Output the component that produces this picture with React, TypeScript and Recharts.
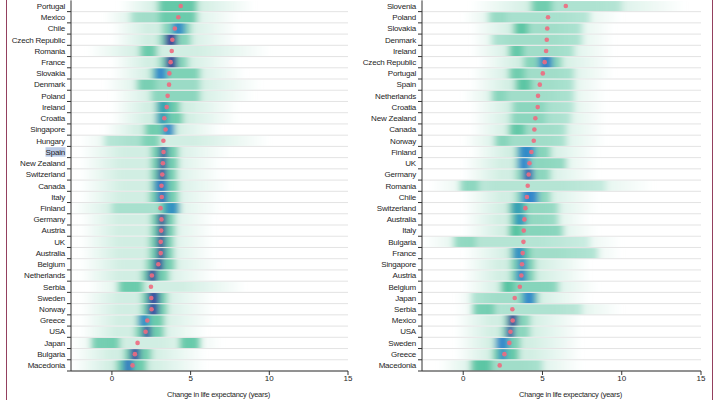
import React from "react";
import { ComposedChart, Bar, Line, XAxis, YAxis, CartesianGrid } from "recharts";

type Span = [number, number];
type Block = [number, number, number];
type Core = [number, number, number] | null;

const xDomain: Span = [-2.6, 15];
const xTicks = [0, 5, 10, 15];
const axisTitle = "Change in life expectancy (years)";
const selectedLabel = "Spain";

// left panel
const womenCountries = [
  "Portugal", "Mexico", "Chile", "Czech Republic", "Romania", "France",
  "Slovakia", "Denmark", "Poland", "Ireland", "Croatia", "Singapore", "Hungary", "Spain",
  "New Zealand", "Switzerland", "Canada", "Italy", "Finland", "Germany", "Austria", "UK",
  "Australia", "Belgium", "Netherlands", "Serbia", "Sweden", "Norway", "Greece", "USA",
  "Japan", "Bulgaria", "Macedonia",
];
const womenMedian = [
  4.37, 4.22, 4.0, 3.84, 3.8, 3.73, 3.65, 3.63, 3.54, 3.48, 3.33, 3.41, 3.27, 3.28,
  3.24, 3.2, 3.15, 3.17, 3.09, 3.15, 3.13, 3.1, 3.1, 2.95, 2.54, 2.48, 2.5, 2.52, 2.25, 2.14,
  1.63, 1.46, 1.31,
];
const womenExtent: Span[] = [
  [0.5, 9], [-0.5, 8], [0, 8], [0, 8], [-1.5, 10], [0, 8],
  [0, 8.5], [-0.5, 9.5], [0, 9], [0, 8], [0, 8], [-0.5, 7], [-2, 10], [-2, 7.5],
  [-2, 7], [-2, 7], [-2, 7.5], [-2, 7], [-2.5, 7], [-2, 6.5], [-2, 6.5], [-2, 6.5],
  [-2, 6.5], [-2, 7], [-2, 6.5], [-1.5, 8.5], [-2, 6.5], [-2, 6.5], [-2, 6.5], [-2, 6],
  [-2.5, 7], [-2.5, 6], [-2.5, 6],
];
const womenBlocks: Block[][] = [
  [[2.95, 5.4, 0.8]], [[1.2, 3.0, 0.35], [3.0, 5.4, 0.75]],
  [[3.2, 5.0, 0.55]], [[3.0, 5.0, 0.55]], [[1.8, 2.85, 0.75]], [[3.0, 4.8, 0.55]],
  [[2.5, 5.6, 0.6]], [[1.6, 2.8, 0.65], [2.8, 5.6, 0.4]], [[2.5, 5.6, 0.5]], [[2.8, 4.3, 0.75]],
  [[2.8, 4.5, 0.7]], [[2.1, 4.0, 0.7]], [[1.9, 3.05, 0.6], [-0.5, 1.9, 0.3]], [[2.5, 4.2, 0.7]],
  [[2.5, 4.2, 0.7]], [[2.5, 4.1, 0.7]], [[2.5, 4.2, 0.7]], [[2.4, 4.2, 0.7]],
  [[3.1, 4.3, 0.9], [0, 3.1, 0.3]], [[2.5, 4.0, 0.7]], [[2.5, 4.0, 0.7]], [[2.4, 3.9, 0.7]],
  [[2.4, 3.9, 0.7]], [[2.2, 4.0, 0.7]], [[1.9, 3.6, 0.7]], [[0.4, 2.0, 0.75]],
  [[1.9, 3.5, 0.7]], [[1.9, 3.5, 0.7]], [[1.6, 3.3, 0.75]], [[1.5, 3.3, 0.7]],
  [[-1.3, 0.5, 0.7], [4.3, 5.6, 0.8]], [[0.8, 2.5, 0.7]], [[0.3, 2.2, 0.75]],
];
const womenCore: Core[] = [
  null, null, [3.85, 4.6, 0.9], [3.4, 4.1, 2], null, [3.45, 4.1, 2],
  [2.75, 3.45, 1], null, null, [2.9, 3.6, 0.4], [2.85, 3.55, 0.5], [3.3, 3.9, 1], null, [3.05, 3.5, 1.8],
  [3.0, 3.45, 1.8], [2.95, 3.45, 1.8], [2.75, 3.5, 1.2], [2.9, 3.5, 1.3], [3.4, 4.2, 0.8], [2.95, 3.4, 2],
  [2.95, 3.4, 2], [2.9, 3.35, 2], [2.9, 3.35, 2], [2.7, 3.25, 1.9], [2.3, 2.85, 1.9], null,
  [2.3, 3.0, 1.8], [2.3, 2.95, 1.8], [1.75, 2.35, 0.9], [2.0, 2.45, 1.8], null, [1.2, 1.75, 1.8],
  [0.75, 1.35, 1.2],
];

// right panel
const menCountries = [
  "Slovenia", "Poland", "Slovakia", "Denmark", "Ireland", "Czech Republic",
  "Portugal", "Spain", "Netherlands", "Croatia", "New Zealand", "Canada", "Norway", "Finland",
  "UK", "Germany", "Romania", "Chile", "Switzerland", "Australia", "Italy", "Bulgaria",
  "France", "Singapore", "Austria", "Belgium", "Japan", "Serbia", "Mexico", "USA",
  "Sweden", "Greece", "Macedonia",
];
const menMedian = [
  6.47, 5.35, 5.3, 5.27, 5.23, 5.14, 5.02, 4.83, 4.72, 4.7, 4.55, 4.49, 4.45, 4.3,
  4.18, 4.13, 4.07, 4.02, 3.92, 3.86, 3.82, 3.8, 3.75, 3.71, 3.67, 3.57, 3.25, 3.1, 3.12, 2.98,
  2.91, 2.6, 2.3,
];
const menExtent: Span[] = [
  [0.5, 14], [0, 10], [0.5, 9.5], [0.5, 9.5], [0.5, 9.5], [1, 9.5],
  [0.5, 9.5], [0.5, 9], [0, 9], [0.5, 9], [0.5, 9], [0.5, 9], [0, 9], [0.5, 8.5],
  [0, 8.5], [0, 8.5], [-2, 12], [0, 8.5], [0, 8.5], [0, 8], [0, 8.5], [-2.5, 10],
  [0, 10], [0, 8], [0, 8], [0, 8.5], [-0.5, 8], [-0.5, 10], [-0.5, 7.5], [-0.5, 7.5],
  [-0.5, 7.5], [-0.5, 7.5], [-1.5, 7.5],
];
const menBlocks: Block[][] = [
  [[4.3, 5.6, 0.7], [5.6, 10, 0.25]], [[1.6, 2.7, 0.45], [2.7, 8.0, 0.3]],
  [[3.2, 4.1, 0.85], [4.1, 7.5, 0.35]], [[1.8, 3.0, 0.35], [3.0, 7.5, 0.35]], [[2.9, 3.8, 0.8], [3.8, 7.0, 0.35]], [[3.8, 6.2, 0.55]],
  [[2.9, 3.9, 0.7], [3.9, 7.0, 0.35]], [[3.3, 4.3, 0.85], [4.3, 7.0, 0.35]], [[1.8, 2.7, 0.55], [2.7, 7.0, 0.35]], [[3.1, 5.2, 0.5], [5.2, 7.0, 0.3]],
  [[3.0, 5.2, 0.5], [5.2, 6.8, 0.3]], [[2.9, 3.9, 0.8], [3.9, 6.5, 0.35]], [[2.0, 2.9, 0.55], [2.9, 6.5, 0.35]], [[3.3, 5.5, 0.55]],
  [[3.3, 6.5, 0.5]], [[3.3, 5.5, 0.5]], [[-0.2, 1.0, 0.55], [1.0, 9.0, 0.2]], [[3.3, 5.5, 0.5]],
  [[2.9, 4.0, 0.85], [4.0, 6.0, 0.45]], [[3.0, 4.0, 0.85], [4.0, 6.0, 0.45]], [[2.9, 3.7, 0.9], [3.7, 6.3, 0.55]], [[-0.6, 0.8, 0.5], [0.8, 8.0, 0.2]],
  [[3.0, 4.2, 0.85], [4.2, 8.5, 0.35]], [[3.0, 4.5, 0.65]], [[3.0, 4.5, 0.65]], [[2.4, 3.2, 0.9], [3.2, 6.0, 0.55]],
  [[0.5, 3.6, 0.35], [3.6, 4.7, 0.75]], [[0.6, 2.0, 0.7], [2.0, 7.5, 0.25]], [[2.6, 4.2, 0.55]], [[2.4, 4.2, 0.5]],
  [[2.0, 3.6, 0.65]], [[1.9, 3.5, 0.8]], [[0.5, 1.8, 0.85], [1.8, 5.0, 0.35]],
];
const menCore: Core[] = [
  null, null, null, null, null, [4.8, 5.6, 1.1],
  null, null, null, null, null, null, null, [3.5, 4.5, 0.9],
  [3.5, 4.2, 1], [3.8, 4.4, 1.5], null, [3.7, 4.7, 1], [3.1, 3.8, 0.5], [3.3, 3.9, 0.7], null, null,
  [3.2, 3.8, 0.9], [3.5, 3.95, 1.1], [3.4, 3.95, 1.1], null, [3.8, 4.5, 1], null, [2.85, 3.4, 2], [2.75, 3.2, 1.8],
  [2.1, 2.85, 1], [2.3, 2.7, 1], null,
];

const FONT = "'Liberation Sans', Arial, sans-serif";
const TEAL = "#48bf9a";
const FAINT = "#c6eadc";
const DOT = "#ee6a80";
const FRAME = "#93405f";

type Row = { name: string; med: number; lo: number; hi: number; blocks: Block[]; core: Core };

function mix(a: number[], b: number[], t: number) {
  const c = a.map((v, i) => Math.round(v + (b[i] - v) * t));
  return `rgb(${c[0]},${c[1]},${c[2]})`;
}

function coreColor(depth: number) {
  const teal = [58, 182, 160];
  const blue = [48, 134, 204];
  const indigo = [58, 52, 150];
  return depth <= 1 ? mix(teal, blue, depth) : mix(blue, indigo, Math.min(depth - 1, 1));
}

function makeShape(id: string) {
  return (props: any) => {
    const { x, y, width, height, payload } = props;
    if (!payload || !(width > 0)) return <g />;
    const { lo, hi, blocks, core } = payload as Row;
    const px = (v: number) => x + ((v - lo) / (hi - lo)) * width;
    return (
      <g filter={`url(#${id}-blur)`}>
        <rect x={x} y={y} width={width} height={height} fill={`url(#${id}-fade)`} />
        {blocks.map(([a, b, s], k) => (
          <rect key={k} x={px(a)} y={y} width={px(b) - px(a)} height={height} fill={TEAL} fillOpacity={s} />
        ))}
        {core && (
          <rect x={px(core[0])} y={y} width={px(core[1]) - px(core[0])} height={height} fill={coreColor(core[2])} />
        )}
      </g>
    );
  };
}

function CountryTick(props: any) {
  const { x, y, payload, selected } = props;
  const half = typeof payload.offset === "number" ? payload.offset : 5.6;
  const isSel = payload.value === selected;
  return (
    <g>
      {isSel && <rect x={x - 19.5} y={y - 4.8} width={20} height={9.5} fill="#bccbe6" />}
      <text
        x={x}
        y={y}
        dy="0.35em"
        textAnchor="end"
        fontSize={8}
        letterSpacing={-0.2}
        fontFamily={FONT}
        fill="#1e1e1e"
      >
        {payload.value}
      </text>
      <line x1={x + 2} x2={x + 6} y1={y + half} y2={y + half} stroke="#333" strokeWidth={1} />
    </g>
  );
}

type PanelProps = {
  id: string;
  countries: string[];
  median: number[];
  extent: Span[];
  blocks: Block[][];
  core: Core[];
  left: number;
  axisWidth: number;
  marginRight: number;
  selected?: string;
};

function Panel({ id, countries, median, extent, blocks, core, left, axisWidth, marginRight, selected }: PanelProps) {
  const rows: Row[] = countries.map((name, i) => ({
    name,
    med: median[i],
    lo: extent[i][0],
    hi: extent[i][1],
    blocks: blocks[i],
    core: core[i],
  }));
  return (
    <div style={{ position: "absolute", left, top: 0 }}>
      <ComposedChart
        layout="vertical"
        width={360}
        height={401}
        data={rows}
        margin={{ top: 0.4, right: marginRight, bottom: 0, left: 0 }}
        barCategoryGap="6%"
      >
        <defs>
          <filter id={`${id}-blur`} filterUnits="userSpaceOnUse" x={-100} y={-100} width={700} height={700}>
            <feGaussianBlur stdDeviation="3.3 0.45" />
          </filter>
          <linearGradient id={`${id}-fade`} x1="0" y1="0" x2="1" y2="0">
            <stop offset="0" stopColor={FAINT} stopOpacity={0} />
            <stop offset="0.28" stopColor={FAINT} stopOpacity={0.8} />
            <stop offset="0.6" stopColor={FAINT} stopOpacity={0.8} />
            <stop offset="1" stopColor={FAINT} stopOpacity={0} />
          </linearGradient>
        </defs>
        <CartesianGrid
          vertical={false}
          stroke="#dcdcdc"
          strokeWidth={0.8}
          horizontalCoordinatesGenerator={({ offset }: any) =>
            rows.map((_, i) => offset.top + (offset.height * (i + 1)) / rows.length)
          }
        />
        <XAxis
          type="number"
          domain={xDomain}
          ticks={xTicks}
          allowDataOverflow
          height={30}
          tickSize={4}
          tickMargin={0}
          stroke="#333"
          tick={{ fontSize: 8, fill: "#1e1e1e", fontFamily: FONT }}
          label={{
            value: axisTitle,
            position: "insideBottom",
            offset: 4,
            dx: 9,
            fontSize: 7.5,
            letterSpacing: -0.25,
            fill: "#1e1e1e",
            fontFamily: FONT,
          }}
        />
        <YAxis
          type="category"
          dataKey="name"
          width={axisWidth}
          interval={0}
          tickSize={4}
          tickMargin={2}
          tickLine={false}
          stroke="#333"
          tick={<CountryTick selected={selected} />}
        />
        <Bar dataKey={(d: Row) => [d.lo, d.hi]} shape={makeShape(id)} isAnimationActive={false} />
        <Line
          dataKey="med"
          stroke="none"
          strokeWidth={0}
          isAnimationActive={false}
          activeDot={false}
          dot={{ r: 2.3, fill: DOT, fillOpacity: 0.9, stroke: "none" }}
        />
      </ComposedChart>
    </div>
  );
}

export default function App() {
  return (
    <div
      style={{
        position: "absolute",
        left: 0,
        top: 0,
        width: 719,
        height: 400,
        overflow: "hidden",
        background: "#fff",
      }}
    >
      <Panel
        id="women"
        countries={womenCountries}
        median={womenMedian}
        extent={womenExtent}
        blocks={womenBlocks}
        core={womenCore}
        left={0}
        axisWidth={71}
        marginRight={12}
        selected={selectedLabel}
      />
      <Panel
        id="men"
        countries={menCountries}
        median={menMedian}
        extent={menExtent}
        blocks={menBlocks}
        core={menCore}
        left={359}
        axisWidth={63}
        marginRight={18}
      />
      <div style={{ position: "absolute", left: 6, top: 0, width: 1.2, height: 400, background: FRAME }} />
      <div style={{ position: "absolute", left: 711.5, top: 0, width: 1.2, height: 400, background: FRAME }} />
    </div>
  );
}
